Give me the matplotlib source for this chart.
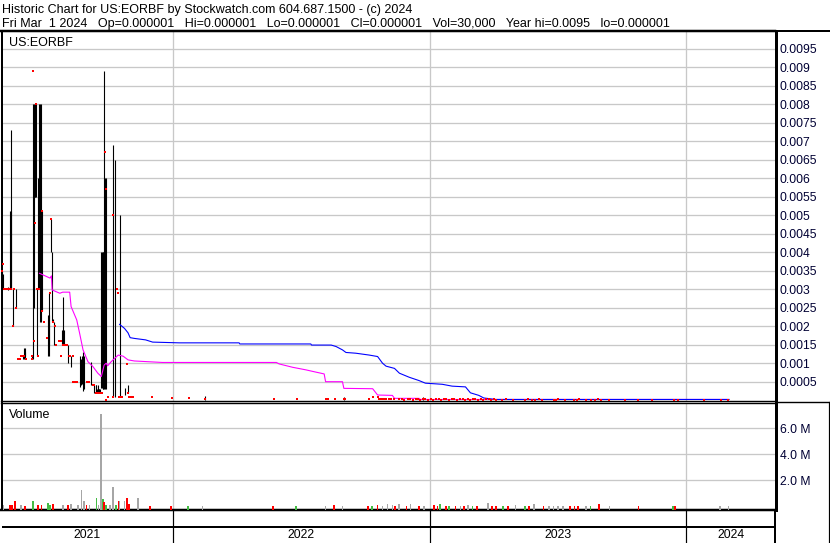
import numpy as np
import pandas as pd
import matplotlib
matplotlib.use('Agg')
import matplotlib.pyplot as plt
import matplotlib.dates as mdates
from matplotlib.lines import Line2D

plt.rcParams['font.family'] = ['Liberation Sans', 'DejaVu Sans']

W, H = 830, 543
START = pd.Timestamp('2021-05-01')   # day 0 of the offsets below

# daily high/low bars (day offset, high, low)
bar_day = [0, 1, 2, 3, 10, 13, 14, 15, 17, 21,
           32, 33, 34, 35, 44, 46, 47, 48, 49, 50,
           52, 53, 54, 55, 56, 57, 58, 67, 68, 69,
           71, 73, 74, 75, 87, 88, 89, 90, 96, 100,
           112, 114, 116, 117, 118, 129, 133, 135, 136, 137,
           138, 139, 140, 141, 143, 144, 145, 146, 147, 148,
           149, 160, 163, 169, 176, 181, 290, 488, 600]
bar_hi = [.0035, .0035, .0035, .0034, .00305, .0051, .0051, .0073, .0030, .0030,
          .0012, .0014, .0013, .0014, .0012, .0080, .0080, .0080, .0080, .0080,
          .0030, .0060, .0060, .0080, .0080, .0080, .0051, .0023, .0023, .0029,
          .0049, .0040, .0022, .0021, .0019, .0019, .0028, .0019, .0015, .0012,
          .0012, .0011, .0012, .0013, .0012, .00104, .00041, .00041, .0004, .0003,
          .0004, .0003, .0003, .0003, .0040, .0040, .0040, .0040, .0089, .0060,
          .0060, .0069, .0065, .0050, .00032, .00041, .00011, .0001, .00008]
bar_lo = [.0030, .0030, .0030, .0030, .00298, .0030, .0030, .0030, .0020, .0025,
          .0011, .0011, .0011, .0012, .0011, .0011, .0025, .0055, .0055, .0055,
          .0012, .0030, .0030, .0030, .0021, .0021, .0024, .0012, .0012, .0015,
          .0040, .0021, .0021, .0015, .0015, .0015, .0015, .0015, .0010, .0009,
          .00035, .0004, .00045, .00025, .0003, .00041, .0002, .0002, .0002, .0002,
          .0002, .0002, .0002, .0002, .00032, .00032, .0003, .0003, .0003, .0003,
          .0003, .0001, .0001, .0001, .00014, .00019, .00001, .00001, .00001]

# closes (red marks)
close_day = [2, 3, 4, 6, 7, 8, 10, 12, 15, 18,
             19, 22, 25, 26, 27, 29, 30, 31, 33, 36,
             44, 45, 46, 47, 48, 50, 51, 53, 55, 58,
             59, 61, 66, 70, 72, 74, 77, 79, 83, 84,
             85, 86, 88, 90, 92, 94, 97, 98, 99, 102,
             103, 105, 107, 109, 123, 124, 126, 131, 133, 136,
             138, 141, 144, 148, 149, 150, 152, 159, 160, 165,
             167, 168, 170, 172, 179, 181, 183, 185, 188, 215,
             244, 268, 290, 389, 421, 462, 464, 466, 476, 488,
             490, 524, 530, 537, 538, 541, 544, 546, 548, 552,
             555, 559, 567, 570, 574, 579, 582, 586, 590, 593,
             597, 601, 604, 608, 612, 615, 619, 623, 626, 631,
             634, 638, 642, 645, 649, 653, 657, 660, 664, 668,
             671, 675, 679, 683, 686, 690, 694, 697, 701, 704,
             713, 718, 729, 746, 750, 755, 760, 765, 770, 787,
             790, 793, 802, 816, 819, 823, 832, 840, 845, 850,
             854, 865, 888, 907, 926, 958, 963, 1000, 1024, 1035]
close_val = [.0035, .00369, .0030, .0030, .0030, .0030, .0030, .0030, .0030, .0020,
             .0030, .0025, .0011, .0011, .0011, .0012, .0012, .0012, .0012, .0011,
             .0012, .0011, .0089, .0016, .0048, .0080, .0030, .0012, .0030, .0051,
             .0024, .0021, .00167, .0029, .0049, .0021, .0020, .0015, .0016, .0016,
             .0012, .0016, .0015, .0015, .0015, .0015, .0012, .0012, .0012, .0012,
             .0005, .0005, .0005, .0005, .0005, .0005, .0005, .00041, .00041, .0002,
             .0002, .0002, .0002, .0067, .0057, .00001, .0001, .0050, .0001, .0030,
             .0029, .0001, .0001, .0001, .00098, .0002, .0001, .0001, .0001, .0001,
             .00005, .00005, .00003, .00003, .00003, .00004, .00004, .00004, .00003, .00004,
             .00004, .00003, .0001, .0001, .00003, .00003, .00003, .00003, .00003, .00003,
             .00003, .00003, .00002, .00002, .00001, .00002, .00002, .00001, .00002, .00002,
             .00001, .00002, .00002, .00001, .00002, .00001, .00002, .00002, .00001, .00002,
             .00002, .00001, .00002, .00002, .00001, .00002, .00002, .00001, .00002, .00001,
             .00002, .00002, .00001, .00002, .00001, .00002, .00002, .00001, .00002, .00001,
             .00001, .00002, .00001, .00001, .00002, .00001, .00001, .00002, .00001, .00001,
             .00001, .00002, .00001, .00001, .00001, .00002, .00001, .00001, .00001, .00002,
             .00001, .00001, .00001, .00001, .00001, .00001, .00001, .00001, .00001, .00001]

# moving averages (magenta = short, blue = long)
ma_s_day = [55, 70, 72, 73, 84, 88, 98, 100, 108, 112,
            117, 124, 131, 138, 143, 147, 150, 152, 157, 162,
            167, 174, 181, 190, 230, 392, 396, 415, 434, 448,
            460, 462, 486, 488, 529, 536, 557, 560, 595, 597, 1035]
ma_s_val = [0.00343, 0.0033, 0.00336, 0.00298, 0.00289, 0.00292, 0.00292, 0.00253, 0.00217, 0.00182,
            0.00136, 0.00104, 0.00091, 0.00073, 0.00064, 0.00095, 0.001, 0.00093, 0.00104, 0.00113,
            0.00122, 0.00119, 0.00109, 0.00106, 0.00102, 0.00102, 0.00098, 0.00089, 0.00082, 0.00076,
            0.00071, 0.0005, 0.0005, 0.00032, 0.00031, 0.00014, 0.00013, 0.00005, 0.00005, 0.00002, 0.00002]
ma_l_day = [169, 176, 181, 184, 190, 206, 216, 254, 339, 340,
            441, 442, 470, 477, 486, 491, 505, 524, 536, 543,
            548, 560, 567, 581, 595, 604, 628, 642, 661, 668,
            680, 687, 704, 1036]
ma_l_val = [0.00205, 0.00194, 0.00182, 0.00169, 0.00167, 0.00163, 0.00157, 0.00155, 0.00155, 0.00152,
            0.00152, 0.00149, 0.00149, 0.00145, 0.00136, 0.00129, 0.00127, 0.00122, 0.00118, 0.001,
            0.00092, 0.00086, 0.00073, 0.00062, 0.00053, 0.00046, 0.00043, 0.00038, 0.00036, 0.0002,
            0.00013, 0.00006, 0.00002, 0.00002]

# volume in millions, colour code r=down g=up n=unchanged
vol_day = [4, 13, 16, 20, 29, 34, 46, 53, 58, 67,
           70, 74, 88, 96, 100, 110, 115, 118, 122, 126,
           136, 139, 143, 145, 147, 150, 155, 160, 164, 168,
           169, 176, 180, 182, 195, 212, 242, 266, 287, 387,
           420, 462, 474, 486, 522, 528, 536, 543, 550, 557,
           561, 566, 577, 583, 595, 602, 616, 621, 625, 633,
           638, 647, 654, 659, 665, 671, 677, 693, 699, 704,
           714, 721, 732, 746, 751, 758, 772, 780, 786, 793,
           800, 810, 816, 821, 832, 839, 851, 866, 907, 956,
           959, 1023, 1035]
vol_val = [0.08, 0.05, 0.05, 0.39, 0.08, 0.03, 0.39, 0.10, 0.08, 0.20,
           0.08, 0.12, 0.05, 0.10, 0.12, 0.05, 1.24, 0.35, 0.05, 0.05,
           0.62, 0.10, 7.10, 0.50, 0.30, 0.05, 0.05, 1.45, 0.08, 0.35,
           0.40, 0.40, 0.62, 0.15, 0.62, 0.03, 0.03, 0.03, 0.03, 0.03,
           0.03, 0.03, 0.05, 0.03, 0.03, 0.03, 0.05, 0.03, 0.18, 0.10,
           0.03, 0.12, 0.03, 0.18, 0.03, 0.03, 0.10, 0.03, 0.12, 0.03,
           0.03, 0.03, 0.03, 0.03, 0.08, 0.03, 0.03, 0.25, 0.03, 0.03,
           0.03, 0.03, 0.08, 0.03, 0.03, 0.12, 0.03, 0.03, 0.03, 0.03,
           0.03, 0.03, 0.03, 0.03, 0.03, 0.03, 0.12, 0.03, 0.03, 0.03,
           0.03, 0.03, 0.03]
vol_col = ['n', 'r', 'r', 'r', 'n', 'r', 'g', 'r', 'r', 'g',
           'g', 'r', 'n', 'r', 'n', 'n', 'n', 'n', 'r', 'n',
           'g', 'n', 'n', 'g', 'r', 'g', 'n', 'n', 'g', 'r',
           'n', 'n', 'r', 'r', 'n', 'r', 'r', 'g', 'n', 'r',
           'g', 'n', 'r', 'n', 'r', 'g', 'r', 'n', 'n', 'n',
           'r', 'n', 'r', 'n', 'r', 'n', 'r', 'r', 'g', 'r',
           'g', 'r', 'n', 'r', 'n', 'g', 'r', 'n', 'r', 'r',
           'g', 'r', 'n', 'g', 'r', 'n', 'r', 'n', 'n', 'n',
           'n', 'r', 'r', 'r', 'n', 'g', 'r', 'n', 'r', 'g',
           'r', 'n', 'n']

price_ticks = [0.0005, 0.001, 0.0015, 0.002, 0.0025, 0.003, 0.0035, 0.004, 0.0045, 0.005,
               0.0055, 0.006, 0.0065, 0.007, 0.0075, 0.008, 0.0085, 0.009, 0.0095]
vol_ticks = [2.0, 4.0, 6.0]
years = [2021, 2022, 2023, 2024]

header1 = "Historic Chart for US:EORBF by Stockwatch.com 604.687.1500 - (c) 2024"
header2 = ("Fri Mar  1 2024   Op=0.000001   Hi=0.000001   Lo=0.000001   "
           "Cl=0.000001   Vol=30,000   Year hi=0.0095   lo=0.000001")

COLS = {'r': '#ff0000', 'g': '#44bb44', 'n': '#a6a6a6'}
GRID = '#c8c8c8'
LBL = '#000033'
PX = 72 / 100  # points per pixel


def to_num(days):
    return mdates.date2num(START + pd.to_timedelta(np.asarray(days, dtype=float), unit='D'))


def fy(y):
    return 1 - y / H


fig = plt.figure(figsize=(W / 100, H / 100), dpi=100)
L, R = 1.5, 775.5
ax = fig.add_axes([L / W, fy(400.7), (R - L) / W, (400.7 - 31) / H])
axv = fig.add_axes([L / W, fy(509.5), (R - L) / W, (509.5 - 403) / H])
axb = fig.add_axes([L / W, 0, (R - L) / W, (543 - 509.5) / H])

xlim = (to_num(1.0), to_num(1102))
year_lines = mdates.date2num([pd.Timestamp(f'{y}-01-01') for y in years[1:]])

# price panel
ax.vlines(to_num(bar_day), bar_lo, bar_hi, color='black', lw=1.1 * PX, zorder=3)
ax.plot(to_num(ma_s_day), ma_s_val, color='#ff00ff', lw=1.1 * PX, zorder=4)
ax.plot(to_num(ma_l_day), ma_l_val, color='#0000ff', lw=1.1 * PX, zorder=4)
ax.plot(to_num(close_day), close_val, ls='none', marker='s', ms=2.0 * PX,
        mew=0, color='#ff0000', zorder=5, clip_on=False)

ax.set_xlim(*xlim)
ax.set_ylim(-0.0000135, 0.009978)
ax.set_yticks(price_ticks)
ax.set_yticklabels([f'{t:g}' for t in price_ticks])
ax.set_xticks(year_lines)
ax.set_xticklabels([])

# volume panel
vmin = -0.279
axv.bar(to_num(vol_day), np.array(vol_val) - vmin, bottom=vmin, width=2.4,
        color=[COLS[c] for c in vol_col], linewidth=0, zorder=3)
axv.set_xlim(*xlim)
axv.set_ylim(vmin, 7.96)
axv.set_yticks(vol_ticks)
axv.set_yticklabels([f'{t:.1f} M' for t in vol_ticks])
axv.set_xticks(year_lines)
axv.set_xticklabels([])

for a in (ax, axv):
    a.yaxis.tick_right()
    a.tick_params(axis='both', length=0)
    a.tick_params(axis='y', pad=3, labelsize=8.7, labelcolor=LBL)
    a.grid(True, color=GRID, lw=1.3 * PX, zorder=0)
    a.set_axisbelow(True)
    a.set_facecolor('white')
    a.spines['left'].set_linewidth(2 * PX)
    a.spines['right'].set_linewidth(3 * PX)
    a.spines['top'].set_linewidth(1.4 * PX)
    a.spines['bottom'].set_linewidth(1.4 * PX)
axv.spines['bottom'].set_linewidth(2.5 * PX)
ax.spines['top'].set_linewidth(2.5 * PX)

# year strip at the bottom
axb.set_xlim(*xlim)
axb.set_ylim(0, 1)
axb.axis('off')
axb.axhline((543 - 527) / 33.5, color='black', lw=2 * PX)
axb.vlines(year_lines, 0, 1, color='black', lw=1.2 * PX)
axb.axvline(xlim[0], color='black', lw=2 * PX)
axb.axvline(xlim[1], color='black', lw=3 * PX)
edges = [xlim[0]] + list(year_lines) + [xlim[1]]
for i, y in enumerate(years):
    axb.text((edges[i] + edges[i + 1]) / 2, (543 - 535.5) / 33.5, str(y),
             ha='center', va='center', fontsize=8.8, color='black')

# header and panel titles
fig.text(2 / W, fy(12.7), header1, fontsize=9.0, va='baseline', color='black')
fig.text(2 / W, fy(27.3), header2, fontsize=9.0, va='baseline', color='black')
fig.text(9.3 / W, fy(46), 'US:EORBF', fontsize=9.0, va='baseline', color='black')
fig.text(9.3 / W, fy(417.7), 'Volume', fontsize=9.0, va='baseline', color='black')

# frame lines outside the axes
fig.add_artist(Line2D([0, 1], [fy(30.5)] * 2, color='black', lw=2 * PX))
fig.add_artist(Line2D([776 / W, 1], [fy(401.5)] * 2, color='black', lw=1.4 * PX))
fig.add_artist(Line2D([828.5 / W] * 2, [fy(401.5), 0], color='black', lw=1.2 * PX))

fig.savefig('out.png', dpi=100, facecolor='white')
